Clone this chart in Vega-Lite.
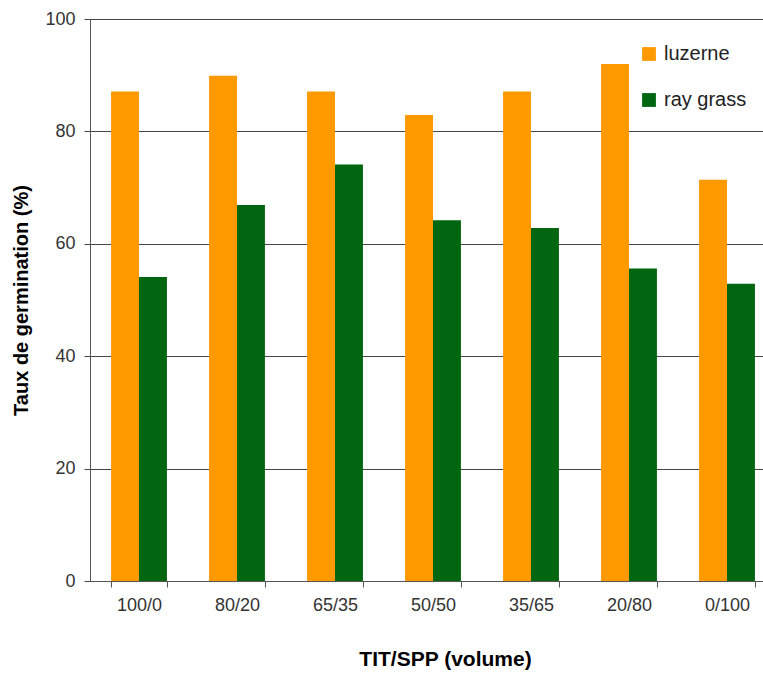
{
  "$schema": "https://vega.github.io/schema/vega-lite/v6.json",
  "width": 686,
  "height": 562,
  "autosize": {"type": "none"},
  "padding": {"left": 90, "top": 19, "right": 0, "bottom": 92},
  "background": "white",
  "config": {
    "font": "Liberation Sans",
    "view": {"stroke": null}
  },
  "data": {
    "values": [
      {"ratio": "100/0", "species": "luzerne", "value": 87.1},
      {"ratio": "100/0", "species": "ray grass", "value": 54.1},
      {"ratio": "80/20", "species": "luzerne", "value": 89.9},
      {"ratio": "80/20", "species": "ray grass", "value": 66.9},
      {"ratio": "65/35", "species": "luzerne", "value": 87.1},
      {"ratio": "65/35", "species": "ray grass", "value": 74.1},
      {"ratio": "50/50", "species": "luzerne", "value": 82.9},
      {"ratio": "50/50", "species": "ray grass", "value": 64.2},
      {"ratio": "35/65", "species": "luzerne", "value": 87.1},
      {"ratio": "35/65", "species": "ray grass", "value": 62.8},
      {"ratio": "20/80", "species": "luzerne", "value": 92.0},
      {"ratio": "20/80", "species": "ray grass", "value": 55.6},
      {"ratio": "0/100", "species": "luzerne", "value": 71.4},
      {"ratio": "0/100", "species": "ray grass", "value": 52.9}
    ]
  },
  "mark": {"type": "bar"},
  "encoding": {
    "x": {
      "field": "ratio",
      "type": "nominal",
      "sort": ["100/0", "80/20", "65/35", "50/50", "35/65", "20/80", "0/100"],
      "scale": {"paddingInner": 0.43, "paddingOuter": 0.215},
      "axis": {
        "title": "TIT/SPP (volume)",
        "titleFontSize": 21,
        "titleFontWeight": "bold",
        "titleColor": "#000000",
        "titlePadding": 34,
        "titleX": 355,
        "labelAngle": 0,
        "labelFontSize": 18,
        "labelColor": "#333333",
        "labelPadding": 9,
        "tickBand": "extent",
        "tickSize": 6,
        "tickColor": "#555555",
        "domainColor": "#555555",
        "grid": false
      }
    },
    "xOffset": {
      "field": "species",
      "type": "nominal",
      "scale": {"paddingInner": 0, "paddingOuter": 0}
    },
    "y": {
      "field": "value",
      "type": "quantitative",
      "scale": {"domain": [0, 100], "nice": false},
      "axis": {
        "title": "Taux de germination (%)",
        "titleFontSize": 20,
        "titleFontWeight": "bold",
        "titleColor": "#000000",
        "titlePadding": 13,
        "values": [0, 20, 40, 60, 80, 100],
        "labelFontSize": 18,
        "labelColor": "#333333",
        "labelPadding": 9,
        "tickSize": 6,
        "tickColor": "#444444",
        "domainColor": "#555555",
        "grid": true,
        "gridColor": "#444444",
        "gridOpacity": 1,
        "gridWidth": 1.2
      }
    },
    "color": {
      "field": "species",
      "type": "nominal",
      "scale": {"domain": ["luzerne", "ray grass"], "range": ["#FF9900", "#006610"]},
      "legend": {
        "title": null,
        "orient": "none",
        "legendX": 549,
        "legendY": 25,
        "symbolType": "square",
        "symbolSize": 190,
        "symbolStrokeWidth": 0,
        "labelFontSize": 20,
        "labelColor": "#222222",
        "rowPadding": 26,
        "labelOffset": 5
      }
    }
  }
}
